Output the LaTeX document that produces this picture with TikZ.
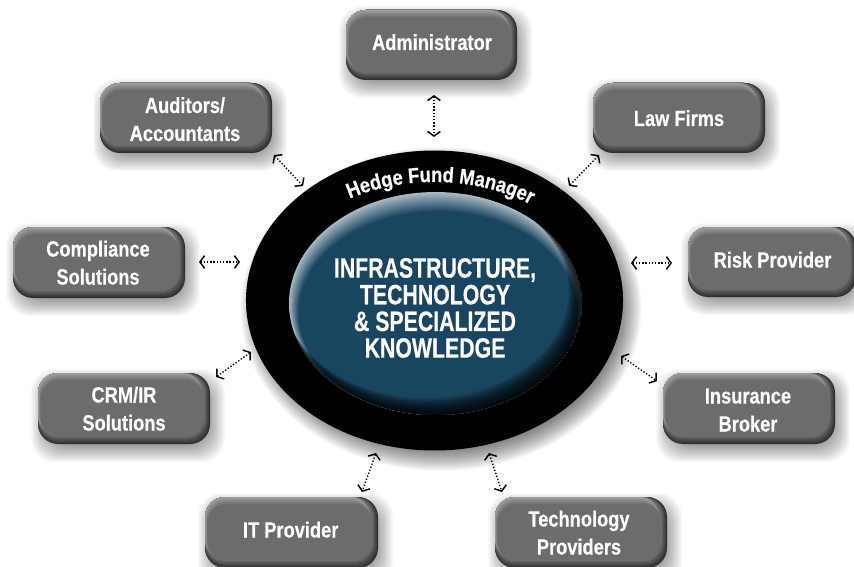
\documentclass[tikz,border=0pt]{standalone}
\usepackage{fontspec}
\setmainfont[BoldFeatures={FakeStretch=0.83,FakeBold=0.35}]{Liberation Sans}
\newfontfamily\corefont[BoldFeatures={FakeStretch=0.76,FakeBold=0.4}]{Liberation Sans}
\newfontfamily\ringfont[BoldFeatures={FakeStretch=0.86,FakeBold=0.35}]{Liberation Sans}
\usetikzlibrary{arrows.meta,decorations.text}
\definecolor{boxbase}{HTML}{6B6C6E}
\definecolor{boxlight}{HTML}{A0A0A0}
\definecolor{boxdark}{HTML}{2E2E2E}
\definecolor{corebase}{HTML}{1A4560}
\definecolor{corelight}{HTML}{A9BAC4}
\tikzset{
  x=0.75pt,y=-0.75pt,
  boxtext/.style={text=white,align=center,inner sep=0pt,font=\fontsize{16.5}{21}\selectfont\bfseries},
  coretext/.style={text=white,align=center,inner sep=0pt,font=\fontsize{21}{20}\corefont\bfseries},
  link/.style={black,line width=1pt,dash pattern=on 1pt off 1.4pt,{Straight Barb[length=3.5pt,width=9.5pt,line width=1.1pt]}-{Straight Barb[length=3.5pt,width=9.5pt,line width=1.1pt]}}
}
% #1 x0, #2 y0, #3 x1, #4 y1
\newcommand{\softbox}[4]{%
  \foreach \k in {0,...,19}{%
    \pgfmathsetmacro{\g}{11-\k}%
    \fill[black,opacity=0.024,rounded corners=17pt] (#1+4-\g,#2+7-\g) rectangle (#3+4+\g,#4+7+\g);
  }%
  \fill[boxdark,rounded corners=15pt] (#1,#2) rectangle (#3,#4);
  \foreach \k in {1,...,9}{%
    \pgfmathsetmacro{\p}{100-\k*100/9}%
    \fill[boxdark!\p!boxbase,rounded corners=15pt] (#1,#2) rectangle (#3-\k*0.6,#4-\k*0.8);
  }%
  \foreach \k in {0,...,9}{%
    \pgfmathsetmacro{\p}{100-\k*100/9}%
    \fill[boxlight!\p!boxbase,rounded corners=14.5pt] (#1+\k*0.3,#2+\k*0.8) rectangle (#3-8.1+\k*0.3,#4-10+\k*0.3);
  }%
}
\begin{document}
\begin{tikzpicture}
\clip (0,0) rectangle (854,567);
\fill[white] (0,0) rectangle (854,567);

% outer ring and its shadow
\foreach \k in {0,...,19}{%
  \pgfmathsetmacro{\g}{12-\k*1.2}%
  \pgfmathsetmacro{\rx}{(188.5+\g)*0.75}%
  \pgfmathsetmacro{\ry}{(150+\g)*0.75}%
  \fill[black,opacity=0.03] (441,309) ellipse[x radius=\rx pt,y radius=\ry pt];
}
\fill[black] (434.5,300.5) ellipse[x radius=141.4pt,y radius=112.5pt];

% core oval: light upper crescent, then dark lower crescent
\coordinate (corec) at (435.5,303.5);
\begin{scope}
\clip (corec) ellipse[x radius=109.9pt,y radius=83.6pt];
\foreach \k in {0,...,16}{%
  \pgfmathsetmacro{\p}{100-\k*100/16}%
  \pgfmathsetmacro{\rx}{(146.5-\k*0.45)*0.75}%
  \pgfmathsetmacro{\ry}{(111.5-\k*0.6)*0.75}%
  \pgfmathsetmacro{\cx}{435.5+\k*0.15}%
  \pgfmathsetmacro{\cy}{303.5+\k*0.6}%
  \fill[corelight!\p!corebase] (\cx,\cy) ellipse[x radius=\rx pt,y radius=\ry pt];
}
\foreach \k in {1,...,14}{%
  \pgfmathsetmacro{\rx}{(146.5-\k*0.25)*0.75}%
  \pgfmathsetmacro{\ry}{(111.5-\k*0.3)*0.75}%
  \pgfmathsetmacro{\cx}{435.5-\k*0.7}%
  \pgfmathsetmacro{\cy}{303.5-\k*0.9}%
  \fill[black,opacity=0.11,even odd rule] (270,170) rectangle (600,430) (\cx,\cy) ellipse[x radius=\rx pt,y radius=\ry pt];
}
\end{scope}

% ring title
\coordinate (ringc) at (434,301);
\path[decorate,decoration={text along path,text align=center,
  text={|\fontsize{16}{18}\ringfont\bfseries\color{white}|Hedge Fund Manager}}]
  (ringc) ++(152:123.75pt and 89.25pt) arc[start angle=152,end angle=22,x radius=123.75pt,y radius=89.25pt];

% core text
\node[coretext] (core) at (435,308) {INFRASTRUCTURE,\\TECHNOLOGY\\\& SPECIALIZED\\KNOWLEDGE};

% boxes
\softbox{346}{10}{517}{80}
\softbox{100}{83}{272}{153}
\softbox{593}{83}{765}{153}
\softbox{13}{227}{185}{298}
\softbox{688}{227}{856}{297}
\softbox{38}{373}{210}{444}
\softbox{663}{373}{835}{444}
\softbox{205}{497}{378}{568}
\softbox{495}{497}{667}{568}

\node[boxtext] (admin) at (432,44.4) {\strut Administrator};
\node[boxtext] (audit) at (185,121.4) {\strut Auditors/\\\strut Accountants};
\node[boxtext] (law) at (679,120.4) {\strut Law Firms};
\node[boxtext] (comp) at (98,264.9) {\strut Compliance\\\strut Solutions};
\node[boxtext] (risk) at (772.5,261.9) {\strut Risk Provider};
\node[boxtext] (crm) at (124,410.9) {\strut CRM/IR\\\strut Solutions};
\node[boxtext] (ins) at (748,411.9) {\strut Insurance\\\strut Broker};
\node[boxtext] (it) at (290.7,531.9) {\strut IT Provider};
\node[boxtext] (tech) at (579,534.9) {\strut Technology\\\strut Providers};

% connector ends
\coordinate (a1) at (434,95);   \coordinate (a2) at (434,137);
\coordinate (b1) at (274,155);  \coordinate (b2) at (303,186);
\coordinate (c1) at (599,155);  \coordinate (c2) at (569,186);
\coordinate (d1) at (199,262);  \coordinate (d2) at (240,262);
\coordinate (e1) at (631,263);  \coordinate (e2) at (672,263);
\coordinate (f1) at (251,352);  \coordinate (f2) at (216,377);
\coordinate (g1) at (621,356);  \coordinate (g2) at (657,381);
\coordinate (h1) at (376,453);  \coordinate (h2) at (362,492);
\coordinate (i1) at (489,453);  \coordinate (i2) at (502,492);
\draw[link] (a1) -- (a2);
\draw[link] (b1) -- (b2);
\draw[link] (c1) -- (c2);
\draw[link] (d1) -- (d2);
\draw[link] (e1) -- (e2);
\draw[link] (f1) -- (f2);
\draw[link] (g1) -- (g2);
\draw[link] (h1) -- (h2);
\draw[link] (i1) -- (i2);
\end{tikzpicture}
\end{document}
